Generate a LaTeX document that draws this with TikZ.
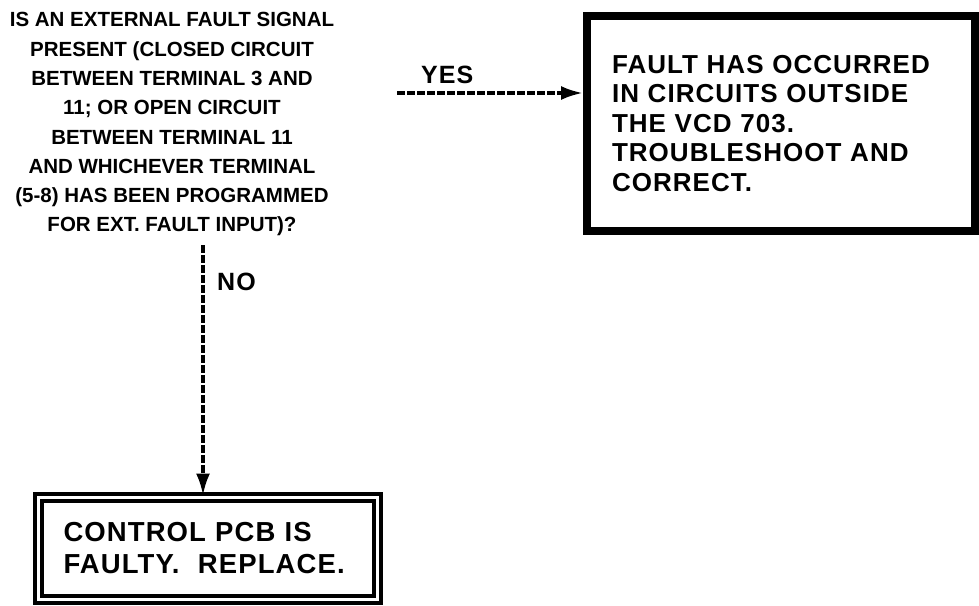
\documentclass[tikz,border=0pt]{standalone}
\usepackage{fontspec}
\setmainfont{Liberation Sans}
\newfontfamily\boxfont{Liberation Sans}[LetterSpace=4]
\usetikzlibrary{arrows.meta}

\begin{document}
\begin{tikzpicture}[x=1pt,y=-1pt,>={Latex[length=22pt,width=14pt]},
    question/.style={align=center,inner sep=0pt,font=\bfseries\fontsize{20.5}{29.3}\selectfont},
    resultbox/.style={draw,align=left,inner xsep=25pt,inner ysep=0pt,font=\boxfont\bfseries\fontsize{26}{29.5}\selectfont},
    answer/.style={inner sep=0pt,font=\boxfont\bfseries\fontsize{25}{25}\selectfont},
    flow/.style={->,line width=3.5pt,dash pattern=on 8pt off 2pt}]
    \useasboundingbox (0,0) rectangle (979,605);
    % Decision text
    \node[question,anchor=north] (q) at (172,12.3) {IS AN EXTERNAL FAULT SIGNAL\\
        PRESENT (CLOSED CIRCUIT\\ BETWEEN TERMINAL 3 AND\\ 11; OR OPEN CIRCUIT\\
        BETWEEN TERMINAL 11\\ AND WHICHEVER TERMINAL\\ (5-8) HAS BEEN PROGRAMMED\\
        FOR EXT. FAULT INPUT)?};
    % Outcome boxes
    \node[resultbox,line width=8pt,minimum width=388pt,minimum height=215pt,text width=338pt]
        (fault) at (781,123.5) {FAULT HAS OCCURRED\\ IN CIRCUITS OUTSIDE\\ THE VCD 703.\\
        TROUBLESHOOT AND\\ CORRECT.};
    \node[resultbox,double,line width=4pt,double distance=3pt,minimum width=339pt,minimum height=102pt,
        text width=289pt,font=\boxfont\bfseries\fontsize{27.5}{32}\selectfont]
        (pcb) at (208,548.5) {CONTROL PCB IS\\ FAULTY.\ \ REPLACE.};
    % Branches
    \coordinate (yesstart) at (397,93);
    \coordinate (nostart) at (203,245);
    \draw[flow] (yesstart) -- (yesstart -| fault.west);
    \draw[flow] (nostart) -- (nostart |- pcb.north);
    \node[answer,anchor=base west] (yes) at (421,83) {YES};
    \node[answer,anchor=base west] (no) at (217,290) {NO};
\end{tikzpicture}
\end{document}
